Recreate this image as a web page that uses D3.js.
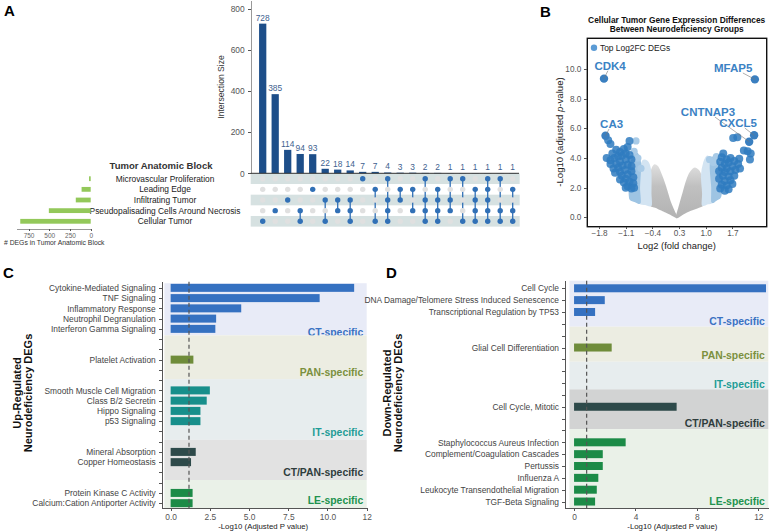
<!DOCTYPE html>
<html>
<head>
<meta charset="utf-8">
<title>Neurodeficiency DEGs</title>
<style>
	body { margin: 0; background: #fff; }
	svg text { font-family: "Liberation Sans", Arial, sans-serif; }
	.axis path, .axis line { fill: none; stroke: #555; shape-rendering: crispEdges; }
	.axis text { fill: #555; }
</style>
<script src="https://d3js.org/d3.v7.min.js"></script>
</head>
<body>
<svg id="fig" width="770" height="531"></svg>
<script>
	// ---------- panel A : upset plot ----------
	var blockNames = ["Microvascular Proliferation", "Leading Edge", "Infiltrating Tumor", "Pseudopalisading Cells Around Necrosis", "Cellular Tumor"];
	var blockSizes = [20, 110, 180, 505, 850];
	var blockTicks = [750, 500, 250, 0];
	var interSizes = [728, 385, 114, 94, 93, 22, 18, 14, 7, 7, 4, 3, 3, 2, 2, 1, 1, 1, 1, 1, 1];
	// which blocks (row index above) belong to each intersection
	var interSets = [[4], [3], [2], [3, 4], [1], [2, 4], [2, 3], [2, 3, 4], [0], [1, 4], [0, 2, 3, 4],
		[1, 2], [1, 3], [0, 2, 3, 4], [1, 2, 3, 4], [0, 2, 3], [0, 4], [1, 2, 3, 4], [0, 1, 2, 3, 4], [0, 3, 4], [1, 3, 4]];
	var interTicks = [0, 200, 400, 600, 800];

	// ---------- panel B : volcano ----------
	var fcTicks = [-1.8, -1.1, -0.4, 0.3, 1.0, 1.7];
	var pTicks = [0, 2, 4, 6, 8, 10];
	// outlines of the dense non-significant / weak clouds [log2FC, -log10 p]
	var grayLeft = [[0.24, 0], [0.1, 0.2], [-0.1, 0.45], [-0.3, 0.7], [-0.44, 0.82], [-0.45, 1.6], [-0.45, 2.5], [-0.42, 3.1], [-0.35, 3.5], [-0.27, 3.4], [-0.18, 2.9], [-0.08, 2.2], [0.05, 1.1], [0.18, 0.3]];
	var grayRight = [[0.24, 0], [0.4, 0.25], [0.6, 0.5], [0.8, 0.7], [0.92, 0.85], [0.93, 1.6], [0.9, 2.4], [0.84, 3.0], [0.72, 3.3], [0.6, 3.0], [0.5, 2.4], [0.4, 1.5], [0.3, 0.6]];
	var paleLeft = [[-0.44, 0.82], [-0.58, 0.9], [-0.73, 1.0], [-0.76, 2.0], [-0.73, 3.0], [-0.64, 3.8], [-0.52, 3.7], [-0.45, 3.0], [-0.45, 1.6]];
	var paleRight = [[0.92, 0.85], [1.05, 0.95], [1.17, 1.05], [1.18, 2.0], [1.14, 3.3], [1.05, 4.1], [0.96, 3.7], [0.9, 2.8], [0.93, 1.6]];
	var midLeft = [[-0.73, 1.0], [-0.86, 1.1], [-0.98, 1.25], [-1.0, 2.0], [-0.98, 3.2], [-0.9, 4.1], [-0.8, 4.3], [-0.72, 3.6], [-0.75, 2.0]];
	var midRight = [[1.17, 1.05], [1.28, 1.2], [1.38, 1.4], [1.4, 2.2], [1.35, 3.4], [1.25, 4.1], [1.15, 3.9], [1.13, 3.3], [1.17, 2.0]];
	var midDots = [[-0.83, 5.15], [-0.88, 4.45], [-0.78, 4.0], [1.28, 4.1], [1.2, 3.7], [-0.7, 3.3], [1.1, 3.9]];
	var darkLeft = [[-1.56, 5.2], [-1.5, 4.95], [-1.35, 4.55], [-1.25, 4.4], [-1.15, 4.6], [-1.05, 4.75], [-1.0, 5.15], [-1.45, 4.3], [-1.6, 4.0],
		[-1.5, 3.85], [-1.4, 4.0], [-1.3, 4.1], [-1.2, 4.15], [-1.1, 4.3], [-1.0, 4.2], [-0.95, 3.9], [-1.1, 3.9], [-1.25, 3.75], [-1.35, 3.6],
		[-1.5, 3.6], [-1.42, 3.3], [-1.3, 3.35], [-1.18, 3.5], [-1.05, 3.55], [-0.95, 3.45], [-1.12, 3.2], [-1.25, 3.05], [-1.38, 3.0], [-1.2, 2.8],
		[-1.05, 2.9], [-0.95, 3.1], [-0.9, 2.7], [-1.1, 2.6], [-1.25, 2.55], [-1.15, 2.35], [-1.0, 2.4], [-0.9, 2.3], [-1.05, 2.1], [-0.95, 1.95],
		[-1.1, 2.0], [-0.88, 2.0]];
	var darkRight = [[1.72, 5.35], [1.83, 5.4], [1.46, 4.3], [1.42, 4.05], [1.55, 3.9], [1.65, 4.0], [1.6, 3.7], [1.5, 3.6], [1.38, 3.75],
		[1.75, 3.8], [1.88, 3.95], [2.0, 4.5], [2.1, 4.45], [2.18, 4.3], [2.16, 3.9], [1.85, 3.6], [1.7, 3.45], [1.55, 3.3], [1.42, 3.35],
		[1.35, 3.1], [1.5, 3.05], [1.65, 3.1], [1.78, 3.2], [1.9, 3.3], [1.6, 2.75], [1.45, 2.8], [1.35, 2.6], [1.5, 2.45], [1.65, 2.5],
		[1.75, 2.8], [1.7, 2.25], [1.55, 2.15], [1.42, 2.2], [1.38, 1.95], [1.6, 1.9], [1.5, 1.8]];
	var topGenes = ["CDK4", "MFAP5", "CNTNAP3", "CXCL5", "CA3"];
	var topFC = [-1.67, 2.29, 2.14, 2.27, -1.63];
	var topP = [9.35, 9.3, 5.1, 5.53, 5.5];
	var topLabelFC = [-1.51, 1.72, 1.06, 1.85, -1.47];
	var topLabelP = [10.22, 10.07, 7.1, 6.36, 6.29];

	// ---------- panels C and D : enrichment ----------
	var groupKeys = ["CT", "PAN", "IT", "CTPAN", "LE"];
	var groupNames = ["CT-specific", "PAN-specific", "IT-specific", "CT/PAN-specific", "LE-specific"];

	var upTerms = ["Cytokine-Mediated Signaling", "TNF Signaling", "Inflammatory Response", "Neutrophil Degranulation", "Interferon Gamma Signaling", "", "",
		"Platelet Activation", "", "", "Smooth Muscle Cell Migration", "Class B/2 Secretin", "Hippo Signaling", "p53 Signaling", "", "",
		"Mineral Absorption", "Copper Homeostasis", "", "", "Protein Kinase C Activity", "Calcium:Cation Antiporter Activity"];
	var upValues = [11.7, 9.5, 4.5, 2.9, 2.85, null, null, 1.45, null, null, 2.5, 2.3, 1.9, 1.9, null, null, 1.6, 1.3, null, null, 1.4, 1.4];
	var upGroups = ["CT", "CT", "CT", "CT", "CT", "", "", "PAN", "", "", "IT", "IT", "IT", "IT", "", "", "CTPAN", "CTPAN", "", "", "LE", "LE"];
	var upBandEdges = [-0.45, 4.63, 8.9, 14.83, 18.74, 21.5];
	var upLabelRows = [4.34, 8.21, 14.1, 17.96, 20.7];
	var upTickValues = [0, 2.5, 5, 7.5, 10, 12.5];
	var upTickLabels = ["0.0", "2.5", "5.0", "7.5", "10.0", "12"];
	var upCutoff = 1.17;

	var downTerms = ["Cell Cycle", "DNA Damage/Telomere Stress Induced Senescence", "Transcriptional Regulation by TP53", "", "", "Glial Cell Differentiation",
		"", "", "", "", "Cell Cycle, Mitotic", "", "", "Staphylococcus Aureus Infection", "Complement/Coagulation Cascades", "Pertussis",
		"Influenza A", "Leukocyte Transendothelial Migration", "TGF-Beta Signaling"];
	var downValues = [12.5, 2.0, 1.37, null, null, 2.45, null, null, null, null, 6.68, null, null, 3.36, 1.87, 1.87, 1.58, 1.48, 1.37];
	var downGroups = ["CT", "CT", "CT", "", "", "PAN", "", "", "", "", "CTPAN", "", "", "LE", "LE", "LE", "LE", "LE", "LE"];
	var downBandEdges = [-0.64, 3.24, 6.2, 8.53, 11.9, 18.57];
	var downLabelRows = [2.76, 5.69, 8.08, 11.39, 18.0];
	var downTickValues = [0, 4, 8, 12];
	var downTickLabels = ["0", "4", "8", "12"];
	var downCutoff = 0.82;

	var barColor = {CT: "#3571c1", PAN: "#6f8c3a", IT: "#178f8b", CTPAN: "#2e4a4a", LE: "#1c8b47"};
	var textColor = {CT: "#3a72c2", PAN: "#7b903e", IT: "#1f9c96", CTPAN: "#2f3d3d", LE: "#21924e"};

	var svg = d3.select("#fig");

	// panel letters
	svg.selectAll("text.letter")
		.data([["A", 4, 16], ["B", 540, 17], ["C", 3, 278], ["D", 386, 278]])
		.enter().append("text")
		.attr("x", function (d) { return d[1]; })
		.attr("y", function (d) { return d[2]; })
		.style("font-size", "15px").style("font-weight", "bold")
		.text(function (d) { return d[0]; });

	// ===== A =====
	var ix = d3.scaleBand().domain(d3.range(interSizes.length)).range([256.45, 518.95]).paddingInner(0.42).paddingOuter(0.21);
	var iy = d3.scaleLinear().domain([0, 843]).range([173.3, 0]);
	var ry = d3.scalePoint().domain(d3.range(blockNames.length)).range([178.7, 221.3]);
	var rowH = ry.step();
	var sx = d3.scaleLinear().domain([0, 893]).range([90.7, 16.7]);

	var gA = svg.append("g");
	gA.selectAll("rect.stripe").data([0, 2, 4]).enter().append("rect")
		.attr("x", 250.7).attr("width", 269)
		.attr("y", function (d) { return ry(d) - rowH / 2; })
		.attr("height", rowH)
		.attr("fill", "#d6e1e1");

	gA.selectAll("rect.ibar").data(interSizes).enter().append("rect")
		.attr("x", function (d, i) { return ix(i); })
		.attr("width", ix.bandwidth())
		.attr("y", function (d) { return iy(d); })
		.attr("height", function (d) { return iy(0) - iy(d); })
		.attr("fill", "#1d4e89");
	gA.selectAll("text.ilab").data(interSizes).enter().append("text")
		.attr("x", function (d, i) { return ix(i) + ix.bandwidth() / 2; })
		.attr("y", function (d) { return iy(d) - 3; })
		.attr("text-anchor", "middle")
		.style("font-size", "8.4px").style("fill", "#3e5f90")
		.text(function (d) { return d; });

	var yAxA = gA.append("g").attr("class", "axis")
		.attr("transform", "translate(250.7,0)")
		.call(d3.axisLeft(iy).tickValues(interTicks).tickSize(3).tickSizeOuter(0));
	yAxA.select(".domain").style("stroke", "#999");
	yAxA.selectAll("text").style("font-size", "8.4px");
	gA.append("line").attr("x1", 250.7).attr("x2", 519).attr("y1", iy(0)).attr("y2", iy(0)).attr("stroke", "#333");
	gA.append("text")
		.attr("transform", "translate(224," + iy(420) + ") rotate(-90)")
		.attr("text-anchor", "middle")
		.style("font-size", "8.6px").style("fill", "#333")
		.text("Intersection Size");

	// matrix
	interSets.forEach(function (set, i) {
		var cx = ix(i) + ix.bandwidth() / 2;
		gA.append("line")
			.attr("x1", cx).attr("x2", cx)
			.attr("y1", ry(d3.min(set))).attr("y2", ry(d3.max(set)))
			.attr("stroke", "#3170b6").attr("stroke-width", 1.3);
		gA.selectAll(null).data(d3.range(blockNames.length)).enter().append("circle")
			.attr("cx", cx)
			.attr("cy", function (r) { return ry(r); })
			.attr("r", 2.7)
			.attr("fill", function (r) { return set.indexOf(r) >= 0 ? "#3170b6" : "#e0e0e0"; });
	});

	// block labels and set size bars
	gA.append("text").attr("x", 161).attr("y", 168.5).attr("text-anchor", "middle")
		.style("font-size", "9.5px").style("font-weight", "bold").style("fill", "#333")
		.text("Tumor Anatomic Block");
	gA.selectAll("text.blab").data(blockNames).enter().append("text")
		.attr("x", 165)
		.attr("y", function (d, i) { return ry(i); })
		.attr("dy", "0.35em")
		.attr("text-anchor", "middle")
		.style("font-size", "8.4px").style("fill", "#222")
		.text(function (d) { return d; });
	gA.selectAll("rect.sbar").data(blockSizes).enter().append("rect")
		.attr("x", function (d) { return sx(d); })
		.attr("width", function (d) { return sx(0) - sx(d); })
		.attr("y", function (d, i) { return ry(i) - 2.4; })
		.attr("height", 4.8)
		.attr("fill", "#93c85a");
	var sAx = gA.append("g").attr("class", "axis")
		.attr("transform", "translate(0,228.7)")
		.call(d3.axisBottom(sx).tickValues(blockTicks).tickSize(2).tickSizeOuter(0));
	sAx.select(".domain").style("stroke", "#999");
	sAx.selectAll("text").style("font-size", "6.5px").style("fill", "#666");
	gA.append("text").attr("x", 4).attr("y", 245)
		.style("font-size", "6.8px").style("fill", "#333")
		.text("# DEGs in Tumor Anatomic Block");

	// ===== B =====
	var bx = d3.scaleLinear().domain([-2.108, 2.6]).range([587.3, 766.7]);
	var by = d3.scaleLinear().domain([-0.63, 12.07]).range([226.7, 38.3]);
	var gB = svg.append("g");
	gB.append("clipPath").attr("id", "vclip").append("rect")
		.attr("x", 587.3).attr("y", 38.3).attr("width", 179.4).attr("height", 188.4);
	// gray cloud is dense near the V and thins out upward
	var grad = gB.append("linearGradient").attr("id", "cloud").attr("gradientUnits", "userSpaceOnUse")
		.attr("x1", 0).attr("x2", 0).attr("y1", by(0)).attr("y2", by(3.5));
	grad.append("stop").attr("offset", 0).attr("stop-color", "#b3b3b3");
	grad.append("stop").attr("offset", 0.6).attr("stop-color", "#c0c0c0");
	grad.append("stop").attr("offset", 1).attr("stop-color", "#dedede");
	var plot = gB.append("g").attr("clip-path", "url(#vclip)");
	var poly = d3.line().x(function (d) { return bx(d[0]); }).y(function (d) { return by(d[1]); }).curve(d3.curveCardinalClosed.tension(0.3));
	[[grayLeft, "url(#cloud)"], [grayRight, "url(#cloud)"], [paleLeft, "#d3e4f2"], [paleRight, "#d3e4f2"], [midLeft, "#9ec4e3"], [midRight, "#9ec4e3"]]
		.forEach(function (p) {
			plot.append("path").attr("d", poly(p[0])).attr("fill", p[1]).attr("stroke", p[1]).attr("stroke-width", 2);
		});
	plot.selectAll("circle.mid").data(midDots).enter().append("circle")
		.attr("cx", function (d) { return bx(d[0]); })
		.attr("cy", function (d) { return by(d[1]); })
		.attr("r", 3.6).attr("fill", "#a9cbe7");
	plot.selectAll("circle.dark").data(darkLeft.concat(darkRight)).enter().append("circle")
		.attr("cx", function (d) { return bx(d[0]); })
		.attr("cy", function (d) { return by(d[1]); })
		.attr("r", 4).attr("fill", "#2f7bbf").attr("fill-opacity", 0.85);
	plot.selectAll("circle.top").data(topGenes).enter().append("circle")
		.attr("cx", function (d, i) { return bx(topFC[i]); })
		.attr("cy", function (d, i) { return by(topP[i]); })
		.attr("r", 4.2).attr("fill", "#3a7fc0");

	var labs = gB.selectAll("text.gene").data(topGenes).enter().append("text")
		.attr("class", "gene")
		.attr("x", function (d, i) { return bx(topLabelFC[i]); })
		.attr("y", function (d, i) { return by(topLabelP[i]); })
		.attr("dy", "0.35em")
		.attr("text-anchor", "middle")
		.style("font-size", "11.5px").style("font-weight", "bold").style("fill", "#3b82c4")
		.text(function (d) { return d; });
	// leader lines from label box edge to point
	labs.each(function (d, i) {
		var bb = this.getBBox();
		var cx = bb.x + bb.width / 2, cy = bb.y + bb.height / 2;
		var tx = bx(topFC[i]), ty = by(topP[i]);
		var dx = tx - cx, dy = ty - cy;
		var t = Math.min(Math.abs(dx) > 0 ? (bb.width / 2) / Math.abs(dx) : 1e9, Math.abs(dy) > 0 ? (bb.height / 2 - 1) / Math.abs(dy) : 1e9);
		var x0 = cx + dx * t, y0 = cy + dy * t;
		if (Math.hypot(tx - x0, ty - y0) > 4) {
			gB.insert("line", "text.gene")
				.attr("x1", x0).attr("y1", y0).attr("x2", tx).attr("y2", ty)
				.attr("stroke", "#777").attr("stroke-width", 0.6);
		}
	});

	gB.append("rect").attr("x", 587.3).attr("y", 38.3).attr("width", 179.4).attr("height", 188.4)
		.attr("fill", "none").attr("stroke", "#111").attr("stroke-width", 1.4);
	gB.append("circle").attr("cx", 594).attr("cy", 47.7).attr("r", 3.2).attr("fill", "#5b9bd5");
	gB.append("text").attr("x", 600).attr("y", 50.6).style("font-size", "8.4px").style("fill", "#222").text("Top Log2FC DEGs");

	var bxAx = gB.append("g").attr("class", "axis").attr("transform", "translate(0,226.7)")
		.call(d3.axisBottom(bx).tickValues(fcTicks).tickFormat(d3.format(".1f")).tickSize(2).tickPadding(1).tickSizeOuter(0));
	var byAx = gB.append("g").attr("class", "axis").attr("transform", "translate(587.3,0)")
		.call(d3.axisLeft(by).tickValues(pTicks).tickFormat(d3.format(".1f")).tickSize(3).tickSizeOuter(0));
	bxAx.select(".domain").remove();
	byAx.select(".domain").remove();
	gB.selectAll(".axis text").style("font-size", "8.2px");
	gB.append("text").attr("x", 676.7).attr("y", 248.5).attr("text-anchor", "middle")
		.style("font-size", "9.4px").style("fill", "#222").text("Log2 (fold change)");
	var yt = gB.append("text").attr("transform", "translate(563,132) rotate(-90)").attr("text-anchor", "middle")
		.style("font-size", "9.6px").style("fill", "#222");
	yt.append("tspan").text("-Log10 (adjusted ");
	yt.append("tspan").style("font-style", "italic").text("p");
	yt.append("tspan").text("-value)");
	gB.selectAll("text.btitle").data(["Cellular Tumor Gene Expression Differences", "Between Neurodeficiency Groups"])
		.enter().append("text")
		.attr("x", 676.7)
		.attr("y", function (d, i) { return 23 + i * 9.2; })
		.attr("text-anchor", "middle")
		.style("font-size", "8.4px").style("font-weight", "bold").style("fill", "#111")
		.text(function (d) { return d; });

	// ===== C and D =====
	function drawEnrich(o) {
		var g = svg.append("g");
		var x = d3.scaleLinear().domain(o.xDomain).range(o.xRange);
		var y = d3.scaleLinear().domain(o.yDomain).range(o.yRange);
		groupKeys.forEach(function (k, j) {
			g.append("rect")
				.attr("x", x(o.bandStart)).attr("width", x(o.xDomain[1]) - x(o.bandStart))
				.attr("y", y(o.edges[j])).attr("height", y(o.edges[j + 1]) - y(o.edges[j]))
				.attr("fill", o.bandFill[k]);
			g.append("text")
				.attr("x", x(o.xDomain[1]) - 3.5)
				.attr("y", y(o.labelRows[j]))
				.attr("dy", "0.35em")
				.attr("text-anchor", "end")
				.style("font-size", "10.4px").style("font-weight", "bold").style("fill", textColor[k])
				.text(groupNames[j]);
		});
		o.values.forEach(function (v, i) {
			if (v == null) return;
			g.append("rect")
				.attr("x", x(0)).attr("width", x(v) - x(0))
				.attr("y", y(i) - 4).attr("height", 8)
				.attr("fill", barColor[o.groups[i]]);
		});
		g.append("line")
			.attr("x1", x(o.cutoff)).attr("x2", x(o.cutoff))
			.attr("y1", o.yRange[0]).attr("y2", o.yRange[1])
			.attr("stroke", "#555").attr("stroke-width", 1.2).attr("stroke-dasharray", "4,3");
		var ya = g.append("g").attr("class", "axis").attr("transform", "translate(" + o.xRange[0] + ",0)")
			.call(d3.axisLeft(y).tickValues(d3.range(o.terms.length)).tickFormat(function (i) { return o.terms[i]; }).tickSize(3).tickSizeOuter(0));
		ya.selectAll("text").style("font-size", "8.4px").style("fill", "#444");
		var xa = g.append("g").attr("class", "axis").attr("transform", "translate(0," + o.yRange[1] + ")")
			.call(d3.axisBottom(x).tickValues(o.tickValues).tickFormat(function (d, i) { return o.tickLabels[i]; }).tickSize(3).tickSizeOuter(0));
		xa.selectAll("text").style("font-size", "8.4px");
		g.append("text").attr("x", x(o.titleAt)).attr("y", 529).attr("text-anchor", "middle")
			.style("font-size", "7.8px").style("fill", "#222").text("-Log10 (Adjusted P value)");
		var yl = g.append("text").attr("transform", "translate(" + o.yTitleX + ",393) rotate(-90)")
			.attr("text-anchor", "middle").style("font-size", "11px").style("font-weight", "bold").style("fill", "#111");
		o.yTitle.forEach(function (t, i) {
			yl.append("tspan").attr("x", 0).attr("dy", i == 0 ? 0 : 11).text(t);
		});
	}

	drawEnrich({
		terms: upTerms, values: upValues, groups: upGroups, edges: upBandEdges, labelRows: upLabelRows,
		xDomain: [-0.57, 12.5], xRange: [161.7, 366.7], yDomain: [-0.6, 21.5], yRange: [281.7, 508.3],
		bandStart: -0.4, cutoff: upCutoff, tickValues: upTickValues, tickLabels: upTickLabels, titleAt: 5.9,
		bandFill: {CT: "#e8ebf7", PAN: "#ecede2", IT: "#e7edee", CTPAN: "#e2e2e2", LE: "#eaf1e8"},
		yTitle: ["Up-Regulated", "Neurodeficiency DEGs"], yTitleX: 21
	});
	drawEnrich({
		terms: downTerms, values: downValues, groups: downGroups, edges: downBandEdges, labelRows: downLabelRows,
		xDomain: [-0.59, 12.65], xRange: [565, 768.3], yDomain: [-0.64, 18.57], yRange: [280.7, 508.3],
		bandStart: -0.3, cutoff: downCutoff, tickValues: downTickValues, tickLabels: downTickLabels, titleAt: 6.4,
		bandFill: {CT: "#e8ebf7", PAN: "#ecede2", IT: "#e7edee", CTPAN: "#d2d3d3", LE: "#eaf1e8"},
		yTitle: ["Down-Regulated", "Neurodeficiency DEGs"], yTitleX: 391
	});
</script>
</body>
</html>
